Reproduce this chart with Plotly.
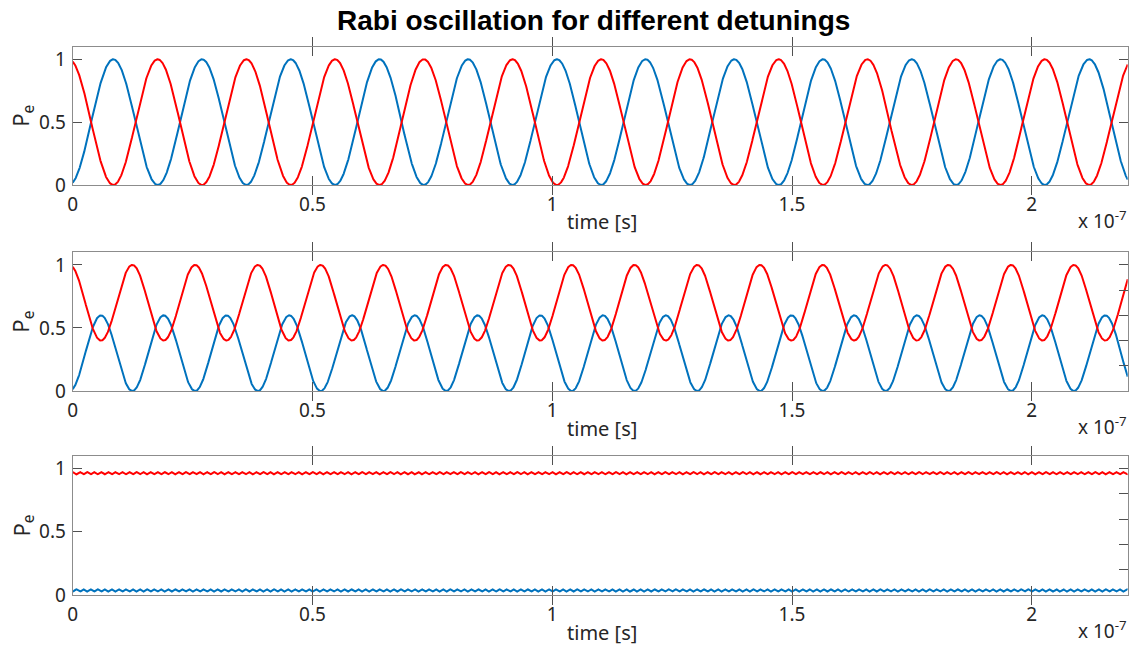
import numpy as np
import plotly.graph_objects as go

# Excited-state population P_e(t) for three detunings.
# Each panel: P_e = low + (high - low) * sin^2(pi * (t + t0) / T); ground state = 1 - P_e
PERIOD_NS = [18.5, 13.09, 1.47]      # oscillation period per panel [ns]
OFFSET_NS = [0.78, 0.65, 0.0]        # time offset per panel [ns]
PE_LOW = [0.0, 0.0, 0.027]           # minimum of P_e per panel
PE_HIGH = [1.0, 0.6, 0.045]          # maximum of P_e per panel

T_MAX = 2.2e-7
N_SAMPLES = 4000

X_TICK_VALS = [0, 0.5e-7, 1.0e-7, 1.5e-7, 2.0e-7]
X_TICK_TEXT = ["0", "0.5", "1", "1.5", "2"]
Y_TICK_VALS = [0, 0.5, 1]
Y_TICK_TEXT = ["0", "0.5", "1"]
Y_RIGHT_TICKS = [[0, 0.5, 1], [0.2, 0.4, 0.6, 0.8, 1.0], [0.2, 0.4, 0.6, 0.8, 1.0]]

TITLE = "Rabi oscillation for different detunings"
X_LABEL = "time [s]"
Y_LABEL = "P<sub>e</sub>"
X_EXPONENT = "x 10<sup>-7</sup>"

BLUE = "#0072BD"
RED = "#FF0000"

W, H = 1137, 648
# plot boxes in pixels: (left, right, top, bottom)
BOXES = [(72.7, 1127.7, 46.7, 185.0),
         (72.7, 1127.7, 252.3, 391.0),
         (72.7, 1127.7, 456.0, 595.0)]

TICK_FONT = dict(family="Noto Sans", size=19, color="#262626")
LABEL_FONT = dict(family="Noto Sans", size=20, color="#262626")
YLABEL_FONT = dict(family="Noto Sans", size=22, color="#262626")
TITLE_FONT = dict(family="Liberation Sans, Arial", size=28, color="#000000")


def px_x(x):
    return x / W


def px_y(y):
    return 1 - y / H


t = np.linspace(0, T_MAX, N_SAMPLES)

fig = go.Figure()
annotations = []

for i in range(3):
    n = i + 1
    xa = "x" if n == 1 else f"x{n}"
    ya = "y" if n == 1 else f"y{n}"
    ya_r = f"y{n + 3}"
    T = PERIOD_NS[i] * 1e-9
    t0 = OFFSET_NS[i] * 1e-9
    pe = PE_LOW[i] + (PE_HIGH[i] - PE_LOW[i]) * np.sin(np.pi * (t + t0) / T) ** 2
    pg = 1 - pe

    fig.add_trace(go.Scatter(x=t, y=pe, mode="lines", line=dict(color=BLUE, width=2),
                             xaxis=xa, yaxis=ya, showlegend=False, hoverinfo="skip"))
    fig.add_trace(go.Scatter(x=t, y=pg, mode="lines", line=dict(color=RED, width=2),
                             xaxis=xa, yaxis=ya, showlegend=False, hoverinfo="skip"))
    # empty trace so the right-hand tick axis is drawn
    fig.add_trace(go.Scatter(x=[], y=[], xaxis=xa, yaxis=ya_r, showlegend=False,
                             hoverinfo="skip"))

    l, r, top, bot = BOXES[i]
    xkey = "xaxis" if n == 1 else f"xaxis{n}"
    ykey = "yaxis" if n == 1 else f"yaxis{n}"
    fig.update_layout({
        xkey: dict(domain=[px_x(l), px_x(r)], anchor=ya, range=[0, T_MAX],
                   tickvals=X_TICK_VALS, ticktext=X_TICK_TEXT, ticks="inside",
                   ticklen=9, tickwidth=1, tickcolor="#505050",
                   showline=True, linecolor="#8c8c8c", linewidth=1, mirror="allticks",
                   showgrid=False, zeroline=False, tickfont=TICK_FONT,
                   ticklabelstandoff=2, automargin=False),
        ykey: dict(domain=[px_y(bot), px_y(top)], anchor=xa, range=[0, 1.1],
                   tickvals=Y_TICK_VALS, ticktext=Y_TICK_TEXT, ticks="inside",
                   ticklen=9, tickwidth=1, tickcolor="#505050",
                   showline=True, linecolor="#8c8c8c", linewidth=1, mirror=True,
                   showgrid=False, zeroline=False, tickfont=TICK_FONT,
                   ticklabelstandoff=2, automargin=False),
        f"yaxis{n + 3}": dict(overlaying=ya, anchor=xa, side="right", range=[0, 1.1],
                              tickvals=Y_RIGHT_TICKS[i], ticks="inside", ticklen=9,
                              tickwidth=1, tickcolor="#505050", showticklabels=False,
                              showline=False, showgrid=False, zeroline=False,
                              automargin=False),
    })

    annotations.append(dict(text=X_LABEL, x=px_x((l + r) / 2 + 1.5), y=px_y(bot + 37),
                            xref="paper", yref="paper", xanchor="center", yanchor="middle",
                            showarrow=False, font=LABEL_FONT))
    annotations.append(dict(text=X_EXPONENT, x=px_x(r + 1), y=px_y(bot + 35),
                            xref="paper", yref="paper", xanchor="right", yanchor="middle",
                            showarrow=False, font=TICK_FONT))
    annotations.append(dict(text=Y_LABEL, x=px_x(22), y=px_y((top + bot) / 2),
                            xref="paper", yref="paper", xanchor="center", yanchor="middle",
                            textangle=-90, showarrow=False, font=YLABEL_FONT))

annotations.append(dict(text=f"<b>{TITLE}</b>", x=px_x(593), y=px_y(20),
                        xref="paper", yref="paper", xanchor="center", yanchor="middle",
                        showarrow=False, font=TITLE_FONT))

fig.update_layout(width=W, height=H, margin=dict(l=0, r=0, t=0, b=0, autoexpand=False),
                  paper_bgcolor="white", plot_bgcolor="white",
                  annotations=annotations, showlegend=False)

fig.write_html("out.html")
